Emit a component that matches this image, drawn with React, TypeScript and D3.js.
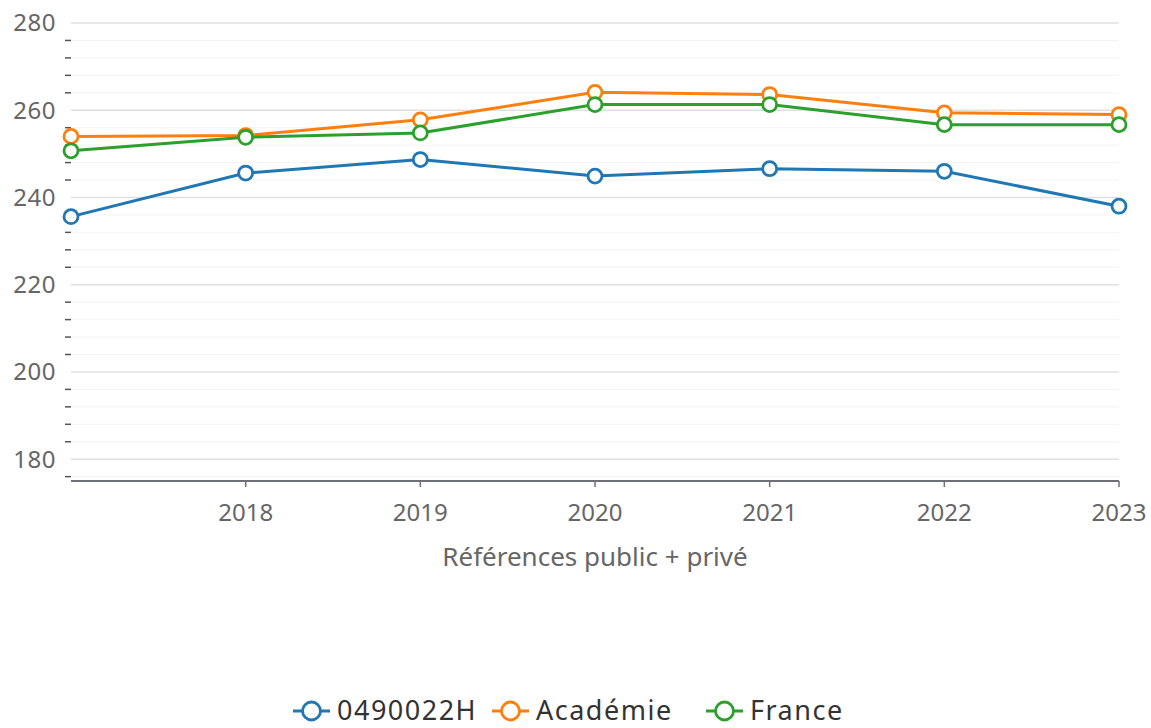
import React, { useEffect, useRef } from "react";
import * as d3 from "d3";

const years = [2017, 2018, 2019, 2020, 2021, 2022, 2023];
const etab = [235.6, 245.6, 248.7, 244.9, 246.6, 246.0, 238.0];
const academie = [254.0, 254.2, 257.8, 264.1, 263.6, 259.4, 259.0];
const france = [250.7, 253.8, 254.8, 261.3, 261.3, 256.7, 256.7];
const seriesNames = ["0490022H", "Académie", "France"];
const yTicks = [180, 200, 220, 240, 260, 280];
const xTicks = [2018, 2019, 2020, 2021, 2022, 2023];
const xTitle = "Références public + privé";

const colors = ["#1f77b4", "#ff7f0e", "#2ca02c"];
const font = "'Noto Sans', 'Open Sans', sans-serif";

const App = () => {
  const ref = useRef<SVGSVGElement>(null);

  useEffect(() => {
    const svg = d3.select(ref.current);
    svg.selectAll("*").remove();

    const width = 1151, height = 728;
    const margin = { top: 23, right: 32, bottom: 247, left: 71 };

    const x = d3.scaleLinear()
      .domain([2017, 2023])
      .range([margin.left, width - margin.right]);

    const y = d3.scaleLinear()
      .domain([175, 280])
      .range([height - margin.bottom, margin.top]);

    // minor grid + ticks every 4 units
    const minor = d3.range(176, 280, 4).filter(v => v % 20 !== 0);
    svg.append("g")
      .selectAll("line")
      .data(minor)
      .join("line")
      .attr("x1", margin.left).attr("x2", width - margin.right)
      .attr("y1", d => y(d)).attr("y2", d => y(d))
      .attr("stroke", "#f3f3f3").attr("stroke-width", 1);

    svg.append("g")
      .selectAll("line")
      .data(minor)
      .join("line")
      .attr("x1", 65).attr("x2", 71)
      .attr("y1", d => y(d)).attr("y2", d => y(d))
      .attr("stroke", "#555").attr("stroke-width", 1.5);

    svg.append("g")
      .selectAll("line")
      .data(yTicks)
      .join("line")
      .attr("x1", margin.left).attr("x2", width - margin.right)
      .attr("y1", d => y(d)).attr("y2", d => y(d))
      .attr("stroke", "#e0e0e0").attr("stroke-width", 1.5);

    svg.append("g")
      .selectAll("text")
      .data(yTicks)
      .join("text")
      .attr("x", 56)
      .attr("y", d => y(d))
      .attr("dy", "0.35em")
      .attr("text-anchor", "end")
      .attr("font-family", font)
      .attr("font-size", 24)
      .attr("letter-spacing", 0.5)
      .attr("fill", "#666")
      .text(d => d);

    // x axis
    const x0 = y(175);
    svg.append("line")
      .attr("x1", margin.left).attr("x2", width - margin.right)
      .attr("y1", x0).attr("y2", x0)
      .attr("stroke", "#6e7079").attr("stroke-width", 2);

    svg.append("g")
      .selectAll("line")
      .data(xTicks)
      .join("line")
      .attr("x1", d => x(d)).attr("x2", d => x(d))
      .attr("y1", x0).attr("y2", x0 + 6)
      .attr("stroke", "#6e7079").attr("stroke-width", 1.5);

    svg.append("g")
      .selectAll("text")
      .data(xTicks)
      .join("text")
      .attr("x", d => x(d))
      .attr("y", 521)
      .attr("text-anchor", "middle")
      .attr("font-family", font)
      .attr("font-size", 24)
      .attr("fill", "#666")
      .text(d => d);

    svg.append("text")
      .attr("x", 595)
      .attr("y", 566)
      .attr("text-anchor", "middle")
      .attr("font-family", font)
      .attr("font-size", 26)
      .attr("fill", "#666")
      .text(xTitle);

    const line = d3.line<number>()
      .x((d, i) => x(years[i]))
      .y(d => y(d));

    [etab, academie, france].forEach((vals, i) => {
      svg.append("path")
        .datum(vals)
        .attr("fill", "none")
        .attr("stroke", colors[i])
        .attr("stroke-width", 3)
        .attr("d", line);
    });

    [etab, academie, france].forEach((vals, i) => {
      svg.append("g")
        .selectAll("circle")
        .data(vals)
        .join("circle")
        .attr("cx", (d, j) => x(years[j]))
        .attr("cy", d => y(d))
        .attr("r", 7)
        .attr("fill", "#fff")
        .attr("stroke", colors[i])
        .attr("stroke-width", 2.8);
    });

    // legend
    const legendX = [293, 492, 706];
    const legendY = 711;
    seriesNames.forEach((name, i) => {
      const g = svg.append("g").attr("transform", `translate(${legendX[i]},${legendY})`);
      g.append("line")
        .attr("x1", 0).attr("x2", 37)
        .attr("stroke", colors[i]).attr("stroke-width", 3);
      g.append("circle")
        .attr("cx", 18.5).attr("r", 9)
        .attr("fill", "#fff")
        .attr("stroke", colors[i]).attr("stroke-width", 2.8);
      g.append("text")
        .attr("x", 44)
        .attr("dy", "0.35em")
        .attr("font-family", font)
        .attr("font-size", 27)
        .attr("letter-spacing", 1.5)
        .attr("fill", "#333")
        .text(name);
    });
  }, []);

  return (
    <svg
      ref={ref}
      width={1151}
      height={728}
      style={{ position: "absolute", left: 0, top: 0, background: "#fff" }}
    />
  );
};

export default App;
